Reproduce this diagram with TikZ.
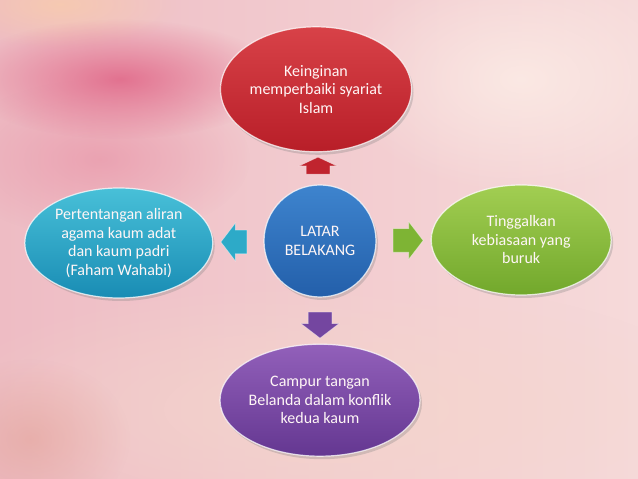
\documentclass[tikz,border=0pt]{standalone}
\usepackage{fontspec}
\setmainfont{Carlito}
\usetikzlibrary{positioning, shapes.geometric, shapes.arrows, shadows, fadings, calc}

\definecolor{bgkiri}{RGB}{238,188,196}
\definecolor{bgkanan}{RGB}{246,218,218}
\definecolor{bgmerah}{RGB}{224,100,134}
\definecolor{bgmawar}{RGB}{230,132,156}
\definecolor{bgputih}{RGB}{252,236,230}
\definecolor{bgpeach}{RGB}{244,214,204}
\definecolor{bgjingga}{RGB}{248,204,172}
\definecolor{bgsalmon}{RGB}{226,160,150}
\definecolor{teks}{RGB}{255,246,246}

\tikzfading[name=kabur, inner color=transparent!0, outer color=transparent!100]

\begin{document}
\begin{tikzpicture}[
    x=1pt, y=1pt,
    bubble/.style={ellipse, draw=white, draw opacity=0.75, line width=1.2pt, inner sep=0pt, inner xsep=-12pt, align=center, text=teks, font=\fontsize{16}{18.5}\selectfont, drop shadow={opacity=0.3, shadow xshift=2pt, shadow yshift=-3pt}},
    blok/.style={single arrow, single arrow head indent=0pt, single arrow head extend=7pt, inner xsep=0pt, inner ysep=11.5pt, draw=white, draw opacity=0.5, line width=0.6pt, single arrow tip angle=105},
    node distance=40pt
]
\useasboundingbox (0,0) rectangle (638,479);

% Background
\fill[left color=bgkiri, right color=bgkanan] (0,0) rectangle (638,479);
\fill[bgpeach, path fading=kabur, fill opacity=0.85] (330,70) ellipse (400 and 130);
\fill[bgsalmon, path fading=kabur, fill opacity=0.55] (30,40) ellipse (100 and 80);
\fill[bgputih, path fading=kabur, fill opacity=0.85] (520,400) ellipse (180 and 115);
\fill[bgjingga, path fading=kabur, fill opacity=0.8] (60,475) ellipse (120 and 45);
\fill[bgmawar, path fading=kabur, fill opacity=0.5] (100,320) ellipse (150 and 80);
\fill[bgmerah, path fading=kabur, fill opacity=0.85] (120,400) ellipse (160 and 60);

% Center
\node[bubble, circle, minimum size=112pt, top color={rgb,255:red,62;green,132;blue,206}, bottom color={rgb,255:red,35;green,95;blue,170}] (latar) at (320,238) {LATAR\\BELAKANG};

% Around
\node[bubble, minimum width=191pt, minimum height=125pt, above=32pt of latar, xshift=-4pt, top color={rgb,255:red,216;green,66;blue,72}, bottom color={rgb,255:red,184;green,30;blue,40}] (ingin) {Keinginan\\memperbaiki syariat\\Islam};
\node[bubble, minimum width=180pt, minimum height=110pt, right=54pt of latar, yshift=1pt, top color={rgb,255:red,162;green,206;blue,82}, bottom color={rgb,255:red,114;green,168;blue,44}] (tinggal) {Tinggalkan\\kebiasaan yang\\buruk};
\node[bubble, minimum width=188pt, minimum height=110pt, left=50pt of latar, yshift=-2pt, top color={rgb,255:red,72;green,192;blue,216}, bottom color={rgb,255:red,25;green,140;blue,180}] (aliran) {Pertentangan aliran\\agama kaum adat\\dan kaum padri\\(Faham Wahabi)};
\node[bubble, minimum width=200pt, minimum height=112pt, below=46pt of latar, top color={rgb,255:red,146;green,96;blue,186}, bottom color={rgb,255:red,100;green,55;blue,145}] (campur) {Campur tangan\\Belanda dalam konflik\\kedua kaum};

% Block arrows
\node[blok, rotate=90, minimum height=17pt, single arrow tip angle=130, fill={rgb,255:red,192;green,36;blue,46}] (panahatas) at ($(latar.north)!0.5!(ingin.south)$) {};
\node[blok, minimum height=30pt, fill={rgb,255:red,126;green,180;blue,52}] (panahkanan) at ($(latar.east)!0.5!(tinggal.west)$) {};
\node[blok, rotate=180, minimum height=26pt, fill={rgb,255:red,45;green,170;blue,200}] (panahkiri) at ($(latar.west)!0.5!(aliran.east)$) {};
\node[blok, rotate=-90, minimum height=26pt, fill={rgb,255:red,116;green,70;blue,160}] (panahbawah) at ($(latar.south)!0.5!(campur.north)$) {};

\end{tikzpicture}
\end{document}
